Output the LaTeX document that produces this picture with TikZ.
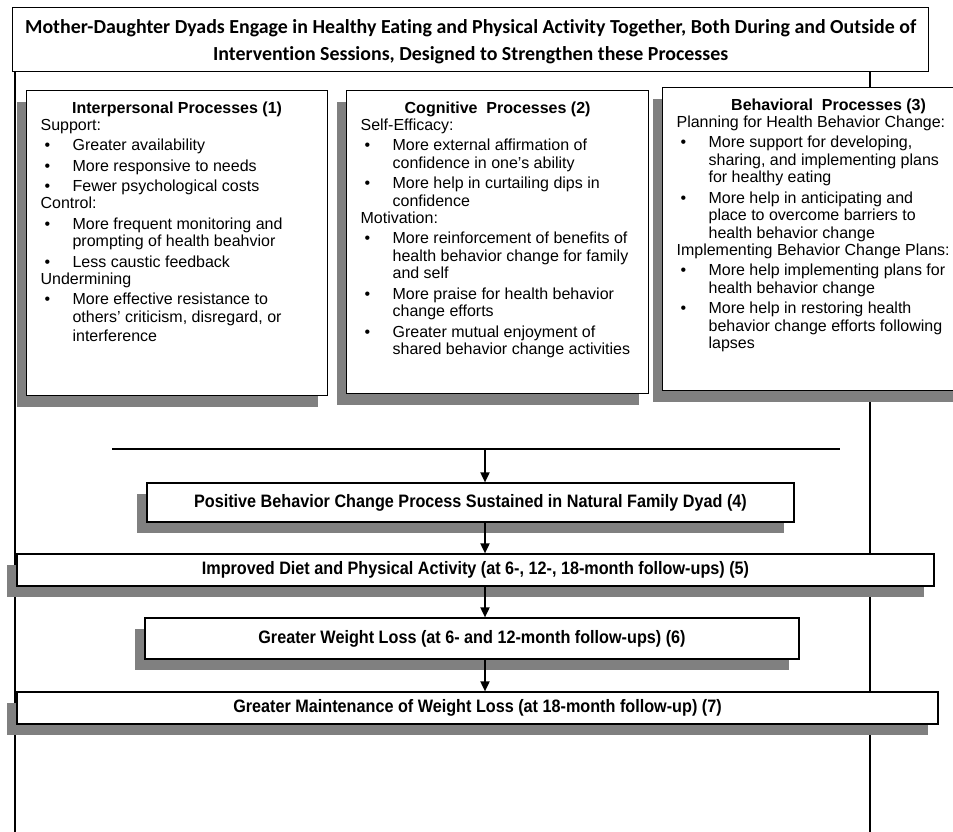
\documentclass[tikz,border=0pt]{standalone}
\usepackage{fontspec}
\setmainfont{Liberation Sans}
\newfontfamily\titlefont[Ligatures=NoCommon]{Carlito}
\newfontfamily\narrowfont[FakeStretch=0.9]{Liberation Sans}
\usetikzlibrary{arrows.meta,shadows}
\definecolor{shadowgray}{RGB}{128,128,128}
\newcommand\bitem[1]{\par\vspace{2.8pt}\hangindent=32pt\hangafter=1\makebox[32pt][l]{\hspace{4pt}\textbullet}#1}
\newcommand\phead[2]{\makebox[#1]{\rule{0pt}{22.5pt}\fontsize{16}{17.5}\selectfont\bfseries #2}\par}
\newcommand\pbody[3]{\parbox[t][#2][t]{#1}{\fontsize{16}{17.5}\selectfont\parindent=0pt\leftskip=14pt\rightskip=0pt plus 1fil\baselineskip=17.5pt #3}}
\tikzset{
  x=1pt, y=-1pt,
  plainbox/.style={draw=black, line width=1.2pt, fill=white, rectangle, inner sep=0pt},
  shadowbox/.style={plainbox, drop shadow={shadow xshift=-10pt, shadow yshift=-11pt, fill=shadowgray, opacity=1}},
  procbox/.style={shadowbox, anchor=north west},
  flowbox/.style={shadowbox, align=center, font=\narrowfont\bfseries\fontsize{18}{20}\selectfont},
  thinline/.style={draw=black, line width=1.2pt},
  thickline/.style={draw=black, line width=2pt},
  flowarrow/.style={draw=black, line width=1.8pt, -{Triangle[length=10pt,width=9pt]}}
}
\begin{document}
\begin{tikzpicture}
\useasboundingbox (0,0) rectangle (953,832);
\clip (0,0) rectangle (953,832);
\fill[white] (0,0) rectangle (953,832);

\node[plainbox, anchor=north west] (top) at (12,7)
  {\parbox[t][64pt][t]{916pt}{\centering\titlefont\bfseries\fontsize{19.9}{27}\selectfont
   \rule{0pt}{26pt}Mother-Daughter Dyads Engage in Healthy Eating and Physical Activity Together, Both During and Outside of\\
   Intervention Sessions, Designed to Strengthen these Processes\par}};

\coordinate (lb) at (15,832);
\coordinate (rb) at (870,832);
\draw[thinline] (lb |- top.south) -- (lb);
\draw[thickline] (rb |- top.south) -- (rb);

\coordinate (hl1) at (112,449);
\coordinate (hl2) at (840,449);
\coordinate (hm) at (485,449);
\draw[thinline] (hl1) -- (hl2);

\node[procbox] (p1) at (26,90) {\pbody{301pt}{305pt}{%
  \phead{273pt}{Interpersonal Processes (1)}%
  Support:
  \bitem{Greater availability}
  \bitem{More responsive to needs}
  \bitem{Fewer psychological costs}
  \par Control:
  \bitem{More frequent monitoring and\\prompting of health beahvior}
  \bitem{Less caustic feedback}
  \par Undermining
  \bitem{More effective resistance to\\others' criticism, disregard, or\\[1.5pt]interference}\par}};

\node[procbox] (p2) at (346,90) {\pbody{302pt}{303pt}{%
  \phead{274pt}{Cognitive\ \ Processes (2)}%
  Self-Efficacy:
  \bitem{More external affirmation of\\confidence in one's ability}
  \bitem{More help in curtailing dips in\\confidence}
  \par Motivation:
  \bitem{More reinforcement of benefits of\\health behavior change for family\\and self}
  \bitem{More praise for health behavior\\change efforts}
  \bitem{Greater mutual enjoyment of\\shared behavior change activities}\par}};

\node[procbox] (p3) at (662,87) {\pbody{332pt}{303pt}{%
  \phead{304pt}{Behavioral\ \ Processes (3)}%
  Planning for Health Behavior Change:
  \bitem{More support for developing,\\sharing, and implementing plans\\for healthy eating}
  \bitem{More help in anticipating and\\place to overcome barriers to\\health behavior change}
  \par Implementing Behavior Change Plans:
  \bitem{More help implementing plans for\\health behavior change}
  \bitem{More help in restoring health\\behavior change efforts following\\lapses}\par}};

\node[flowbox, minimum width=647pt, minimum height=39pt] (b4) at (470.5,502.5)
  {Positive Behavior Change Process Sustained in Natural Family Dyad (4)};
\node[flowbox, minimum width=917pt, minimum height=32pt] (b5) at (475.5,570)
  {Improved Diet and Physical Activity (at 6-, 12-, 18-month follow-ups) (5)};
\node[flowbox, minimum width=654pt, minimum height=41pt] (b6) at (472,638.5)
  {Greater Weight Loss (at 6- and 12-month follow-ups) (6)};
\node[flowbox, minimum width=921pt, minimum height=32pt] (b7) at (477.5,708)
  {Greater Maintenance of Weight Loss (at 18-month follow-up) (7)};

\draw[flowarrow] (hm) -- (hm |- b4.north);
\draw[flowarrow] (hm |- b4.south) -- (hm |- b5.north);
\draw[flowarrow] (hm |- b5.south) -- (hm |- b6.north);
\draw[flowarrow] (hm |- b6.south) -- (hm |- b7.north);
\end{tikzpicture}
\end{document}
